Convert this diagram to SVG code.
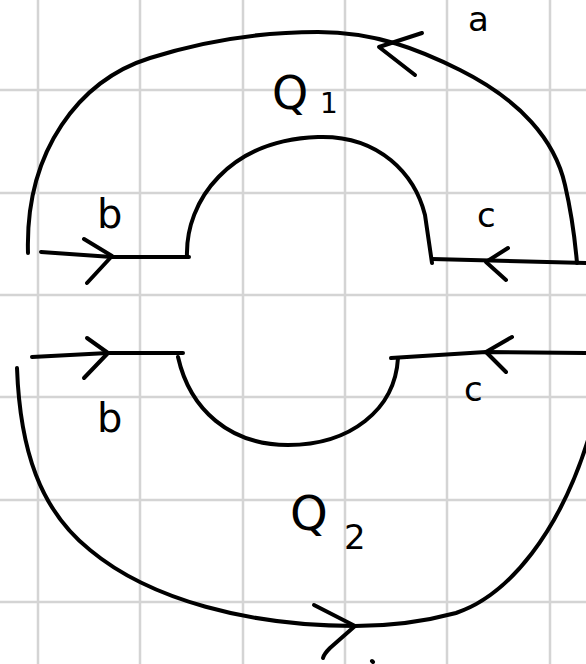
<svg xmlns="http://www.w3.org/2000/svg" width="586" height="664" viewBox="0 0 586 664">
<defs>
<style>
.grid line{stroke:#d4d4d4;stroke-width:2.5}
.ink{fill:none;stroke:#000;stroke-width:4;stroke-linecap:round;stroke-linejoin:round}
.lbl{font-family:"DejaVu Sans","Liberation Sans",sans-serif;fill:#000}
</style>
</defs>
<rect width="586" height="664" fill="#fff"/>
<g class="grid" id="grid">
<line x1="38" y1="0" x2="38" y2="664"/><line x1="140" y1="0" x2="140" y2="664"/><line x1="243" y1="0" x2="243" y2="664"/><line x1="345" y1="0" x2="345" y2="664"/><line x1="447" y1="0" x2="447" y2="664"/><line x1="550" y1="0" x2="550" y2="664"/>
<line x1="0" y1="90" x2="586" y2="90"/><line x1="0" y1="193" x2="586" y2="193"/><line x1="0" y1="295" x2="586" y2="295"/><line x1="0" y1="397" x2="586" y2="397"/><line x1="0" y1="500" x2="586" y2="500"/><line x1="0" y1="602" x2="586" y2="602"/>
</g>
<g id="Q1">
<path class="ink" d="M28,253 C25,150 80,80 150,58 C200,42 260,32 318,32 C376,32 420,50 460,70 C520,100 555,140 565,185 C572,215 575,240 577,263"/>
<path class="ink" d="M187,257 C185,200 230,140 318,137 C380,135 415,175 425,215 L432,263"/>
<text class="lbl" x="272" y="109" font-size="46">Q</text>
<text class="lbl" x="320" y="113" font-size="28">1</text>
<text class="lbl" x="468" y="31" font-size="34">a</text>
<text class="lbl" x="97" y="228" font-size="40">b</text>
<text class="lbl" x="477" y="227" font-size="34">c</text>
</g>
<g id="Q2">
<path class="ink" d="M17,368 C20,450 40,510 90,550 C150,600 250,626 355,626 C400,626 430,620 456,613 C510,595 560,530 588,440"/>
<path class="ink" d="M178,357 C190,410 230,445 288,445 C350,445 395,410 398,358"/>
<text class="lbl" x="290" y="530" font-size="48">Q</text>
<text class="lbl" x="344" y="549" font-size="34">2</text>
<text class="lbl" x="97" y="432" font-size="40">b</text>
<text class="lbl" x="464" y="401" font-size="34">c</text>
</g>
<g id="connectors">
<path class="ink" d="M41,252 L112,257 L189,257"/>
<path class="ink" d="M84,239 L112,256 L87,283"/>
<path class="ink" d="M432,259 L586,263"/>
<path class="ink" d="M508,248 L486,262 L506,280"/>
<path class="ink" d="M422,33 L379,47 L415,75"/>
<path class="ink" d="M32,357 L108,353 L183,353"/>
<path class="ink" d="M87,338 L108,353 L84,378"/>
<path class="ink" d="M391,358 L486,352 L586,353"/>
<path class="ink" d="M512,337 L486,352 L506,372"/>
<path class="ink" d="M314,605 L355,626 L330,648 Q324,654 323,658"/>
<path class="ink" d="M372,661 L373,662"/>
</g>
</svg>
